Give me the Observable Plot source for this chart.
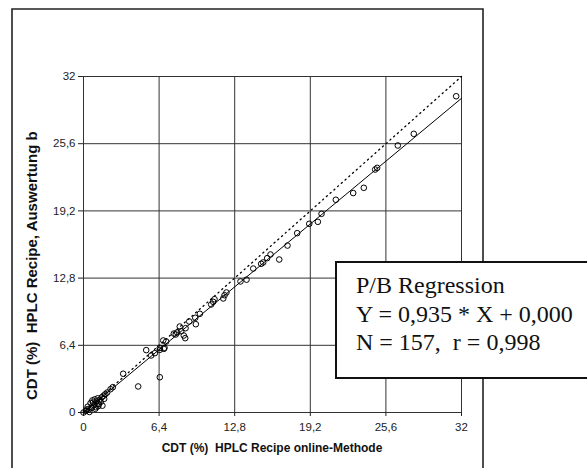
<!DOCTYPE html>
<html><head><meta charset="utf-8">
<script src="https://cdn.jsdelivr.net/npm/d3@7"></script>
<script src="https://cdn.jsdelivr.net/npm/@observablehq/plot@0.6"></script>
<style>body{margin:0;background:#fff;} svg{display:block}</style>
</head><body><div id="chart"></div>
<script>
// Data (CDT %, online method vs. evaluation)
const xVals = [
  31.55, 27.96, 26.61, 24.86, 24.69, 23.73, 22.83, 21.36, 20.15, 19.84,
  19.11, 18.09, 17.27, 16.57, 15.83, 15.55, 15.21, 15.04, 14.37, 13.8,
  13.29, 12.1, 11.94, 11.83, 11.09, 10.98, 10.81, 9.85, 9.46, 9.51,
  8.95, 8.64, 8.15, 8.27, 7.93, 7.81, 7.65, 8.61, 8.49, 7.0,
  6.75, 6.46, 6.86, 5.31, 5.73, 6.04, 6.46, 6.8, 6.46, 4.63,
  3.36, 2.48, 2.29,
  0, 0.2, 0.35, 0.45, 0.6, 0.7, 0.75, 0.9, 0.95, 1.05,
  1.1, 1.2, 1.3, 1.35, 1.45, 1.55, 1.6, 1.7, 1.75, 1.85,
  2.0, 0.5, 1.0, 1.25, 0.3, 0.8
];
const yVals = [
  30.12, 26.54, 25.43, 23.3, 23.14, 21.4, 20.9, 20.26, 18.92, 18.16,
  17.97, 17.08, 15.9, 14.57, 15.05, 14.7, 14.29, 14.16, 13.71, 12.65,
  12.48, 11.43, 11.17, 10.86, 10.79, 10.54, 10.29, 9.4, 9.02, 8.41,
  8.67, 8.03, 8.19, 7.74, 7.62, 7.43, 7.52, 7.08, 7.33, 6.76,
  6.86, 6.16, 6.16, 5.94, 5.43, 5.65, 5.97, 6.06, 3.36, 2.48,
  3.69, 2.41, 2.22,
  0, 0.15, 0.55, 0.3, 0.9, 0.45, 1.15, 0.7, 1.25, 0.5,
  1.05, 1.35, 0.8, 1.2, 1.0, 1.45, 0.65, 1.6, 1.3, 1.75,
  1.9, 0.05, 0.35, 0.6, 0.3, 0.95
];
const tickValues = [0, 6.4, 12.8, 19.2, 25.6, 32];
const tickLabels = ["0", "6,4", "12,8", "19,2", "25,6", "32"];
const slope = 0.935;
const intercept = 0.0;
const lineX = [0, 32];
const xTitle = "CDT (%)  HPLC Recipe online-Methode";
const yTitle = "CDT (%)  HPLC Recipe, Auswertung b";
const boxLines = ["P/B Regression", "Y = 0,935 * X + 0,000", "N = 157,  r = 0,998"];

const points = xVals.map((x, i) => ({x, y: yVals[i]}));
const identity = lineX.map(x => ({x, y: x}));
const regression = lineX.map(x => ({x, y: slope * x + intercept}));
const fmt = d => tickLabels[tickValues.indexOf(d)];

const chart = Plot.plot({
  width: 587, height: 468,
  marginLeft: 83, marginRight: 126, marginTop: 76, marginBottom: 56,
  style: {fontFamily: "Arial, 'Liberation Sans', sans-serif", fontSize: "11.5px", color: "#222", background: "#fff"},
  x: {domain: [0, 32]},
  y: {domain: [0, 32]},
  marks: [
    Plot.gridX(tickValues, {stroke: "#333", strokeOpacity: 1}),
    Plot.gridY(tickValues, {stroke: "#333", strokeOpacity: 1}),
    Plot.axisX(tickValues, {tickFormat: fmt, tickSize: 4, tickPadding: 6, label: null}),
    Plot.axisY(tickValues, {tickFormat: fmt, tickSize: 5, tickPadding: 3, label: null}),
    Plot.line(identity, {x: "x", y: "y", stroke: "#000", strokeDasharray: "1.2,3.8", strokeWidth: 1.3}),
    Plot.line(regression, {x: "x", y: "y", stroke: "#000", strokeWidth: 1}),
    Plot.dot(points, {x: "x", y: "y", r: 2.8, stroke: "#000", fill: "none", strokeWidth: 1})
  ]
});
document.getElementById("chart").appendChild(chart);

const svg = d3.select(chart);
const xs = chart.scale("x");
// outer border
svg.append("path").attr("d", "M12,468V9H483V468").attr("fill", "none").attr("stroke", "#222").attr("stroke-width", 1.6);
// axis titles
svg.append("text").text(xTitle)
  .attr("x", (xs.apply(0) + xs.apply(32)) / 2).attr("y", 452)
  .attr("text-anchor", "middle").attr("font-weight", "bold").attr("font-size", 12)
  .attr("font-family", "Arial, 'Liberation Sans', sans-serif").attr("fill", "#111")
  .style("white-space", "pre");
svg.append("text").text(yTitle)
  .attr("transform", "translate(37,400) rotate(-90)")
  .attr("text-anchor", "start").attr("font-weight", "bold").attr("font-size", 15)
  .attr("font-family", "Arial, 'Liberation Sans', sans-serif").attr("fill", "#111")
  .style("white-space", "pre");
// regression box
const box = svg.append("g");
box.append("rect").attr("x", 336).attr("y", 262).attr("width", 270).attr("height", 116)
  .attr("fill", "#fff").attr("stroke", "#111").attr("stroke-width", 2);
boxLines.forEach((t, i) => {
  box.append("text").text(t).attr("x", 356).attr("y", 293 + i * 28.5)
    .attr("text-anchor", "start")
    .attr("font-family", "'Liberation Serif', 'Times New Roman', serif").attr("font-size", 24)
    .attr("fill", "#111").style("white-space", "pre");
});
</script>
</body></html>
